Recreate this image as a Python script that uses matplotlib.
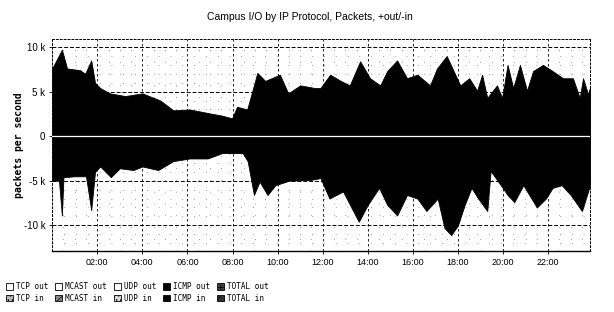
import matplotlib
matplotlib.use("Agg")
import matplotlib.pyplot as plt
from matplotlib.patches import Patch

# hours of day and packet rates (packets/s)
hours = [0.0, 0.43, 0.66, 1.24, 1.46, 1.73, 1.9, 2.13, 2.57, 3.24, 4.0, 4.8, 5.37,
         6.1, 6.9, 7.54, 7.98, 8.2, 8.65, 8.87, 9.1, 9.45, 10.1, 10.47, 11.0,
         11.66, 11.9, 12.33, 12.8, 13.2, 13.66, 14.1, 14.55, 14.86, 15.3, 15.74,
         16.2, 16.76, 17.07, 17.5, 18.1, 18.5, 18.85, 19.07, 19.3, 19.73, 19.96,
         20.2, 20.45, 20.75, 21.06, 21.33, 21.77, 22.2, 22.66, 23.1, 23.4, 23.55,
         23.77, 23.86]
out_pps = [7600, 9700, 7600, 7400, 7000, 8500, 6000, 5400, 4800, 4500, 4800, 4000,
           2900, 3000, 2600, 2300, 2000, 3300, 3000, 5000, 7100, 6200, 6900, 4800,
           5700, 5400, 5400, 6900, 6200, 5700, 8400, 6500, 5700, 7300, 8500, 6500,
           6900, 5700, 7600, 9000, 5700, 6500, 5100, 6900, 4300, 5700, 4300, 8000,
           5400, 8000, 5100, 7300, 8000, 7300, 6500, 6500, 4300, 6500, 4700, 5500]

in_hours = [0.0, 0.3, 0.43, 0.5, 1.0, 1.5, 1.73, 1.9, 2.13, 2.6, 3.0, 3.6, 4.0, 4.7,
            5.37, 6.1, 6.9, 7.54, 8.0, 8.45, 8.67, 8.95, 9.2, 9.55, 9.9, 10.5,
            11.5, 11.9, 12.3, 12.9, 13.6, 14.0, 14.5, 14.86, 15.3, 15.74, 16.2,
            16.6, 17.1, 17.4, 17.7, 18.0, 18.3, 18.6, 18.9, 19.3, 19.45, 19.9,
            20.2, 20.5, 20.9, 21.5, 21.9, 22.2, 22.6, 23.0, 23.5, 23.86]
in_pps = [-5000, -5000, -8900, -4600, -4500, -4500, -8300, -4000, -3400, -4600,
          -3600, -3800, -3400, -3800, -2800, -2500, -2500, -1900, -1900, -1900,
          -2800, -6600, -5100, -6600, -5500, -5000, -4900, -4700, -7000, -6200,
          -9600, -7700, -5800, -7700, -8900, -6600, -7000, -8400, -7000, -10300,
          -11100, -10000, -7700, -5800, -7000, -8400, -3900, -5500, -6600, -7400,
          -5500, -8000, -7000, -5800, -5500, -6600, -8400, -5500]

yticks = [-10000, -5000, 0, 5000, 10000]
ytick_labels = ["-10 k", "-5 k", "0", "5 k", "10 k"]
xticks = [2, 4, 6, 8, 10, 12, 14, 16, 18, 20, 22]
xtick_labels = ["%02d:00" % h for h in xticks]

legend_names = ["TCP out", "TCP in", "MCAST out", "MCAST in", "UDP out", "UDP in",
                "ICMP out", "ICMP in", "TOTAL out", "TOTAL in"]

mono = "DejaVu Sans Mono"

fig = plt.figure(figsize=(6.14, 3.12), dpi=100)
ax = fig.add_axes([0.085, 0.195, 0.876, 0.68])

# grid: dashed major lines, sparse dotted minor lines
for v in range(-12000, 11000, 1000):
    if v % 5000 == 0:
        continue
    ax.axhline(v, color="black", lw=0.5, ls=(0, (1, 16)), alpha=0.7, zorder=1)
for h in [x * 0.5 for x in range(1, 48)]:
    if h % 2 == 0:
        continue
    ax.axvline(h, color="black", lw=0.5, ls=(0, (1, 16)), alpha=0.7, zorder=1)
for v in [-10000, -5000, 5000, 10000]:
    ax.axhline(v, color="black", lw=0.7, ls=(0, (4, 2)), zorder=1)
for h in xticks:
    ax.axvline(h, color="black", lw=0.6, ls=(0, (3, 3)), zorder=1)

ax.fill_between(hours, out_pps, 0, color="black", lw=0.6, zorder=2)
ax.fill_between(in_hours, in_pps, 0, color="black", lw=0.6, zorder=2)
ax.axhline(0, color="white", lw=0.9, zorder=3)

ax.set_xlim(0, 23.86)
ax.set_ylim(-12900, 10900)
ax.set_yticks(yticks)
ax.set_yticklabels(ytick_labels, fontsize=7, family="Liberation Sans")
ax.set_xticks(xticks)
ax.set_xticklabels(xtick_labels, fontsize=6.5, family="Liberation Sans")
ax.tick_params(length=2, width=0.6, pad=3)

for side in ["left", "top", "right"]:
    ax.spines[side].set_linestyle((0, (2, 2)))
    ax.spines[side].set_linewidth(0.7)
ax.spines["bottom"].set_linewidth(1.0)

ax.set_ylabel("packets per second", fontsize=7, family=mono, fontweight="bold",
              labelpad=0)
fig.text(0.505, 0.945, "Campus I/O by IP Protocol, Packets, +out/-in",
         ha="center", va="center", fontsize=7.5, family="Liberation Sans")

faces = ["white", "#bbbbbb", "white", "#888888", "white", "#dddddd",
         "black", "black", "#444444", "#333333"]
hatches = [None, "....", None, "////", None, "....", None, None, "++", "xx"]
handles = [Patch(facecolor=f, edgecolor="black", hatch=h, lw=0.6)
           for f, h in zip(faces, hatches)]
plt.rcParams["hatch.linewidth"] = 0.5
fig.legend(handles, legend_names, ncol=5, loc="lower left",
           bbox_to_anchor=(0.005, 0.02), frameon=False,
           prop={"family": mono, "size": 5.5}, handlelength=0.9,
           handleheight=0.9, handletextpad=0.4, columnspacing=0.9,
           labelspacing=0.35, borderaxespad=0)

fig.savefig("out.png", dpi=100)
